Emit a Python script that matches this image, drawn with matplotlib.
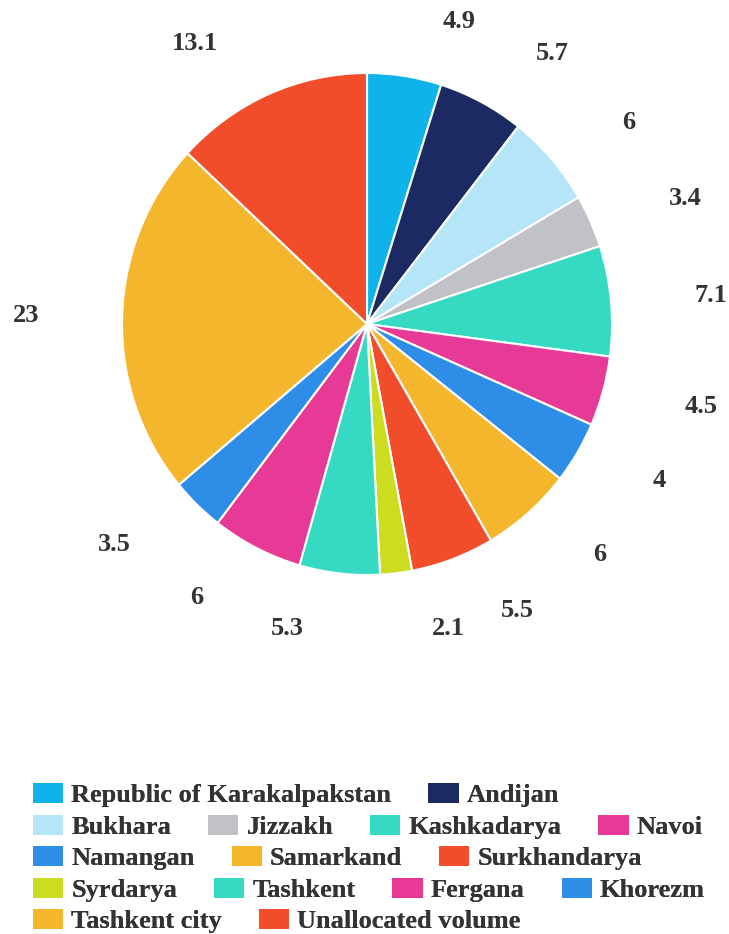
"""Pie chart of allocation by region (Uzbekistan)"""

import matplotlib
matplotlib.use("Agg")
import matplotlib.pyplot as plt
import matplotlib.patches as mpatches

regions = [
    "Republic of Karakalpakstan", "Andijan", "Bukhara", "Jizzakh",
    "Kashkadarya", "Navoi", "Namangan", "Samarkand", "Surkhandarya",
    "Syrdarya", "Tashkent", "Fergana", "Khorezm", "Tashkent city",
    "Unallocated volume",
]
values = [4.9, 5.7, 6, 3.4, 7.1, 4.5, 4, 6, 5.5, 2.1, 5.3, 6, 3.5, 23, 13.1]
colors = [
    "#0db3ea", "#1b2a63", "#b5e6f8", "#c1c1c8", "#36d9c1", "#e63a96",
    "#2e8de6", "#f4b62c", "#f24d2a", "#ccdc1f", "#36d9c1", "#e63a96",
    "#2e8de6", "#f4b62c", "#f24d2a",
]
# legend items per row (flowing legend like the original)
legend_rows = [2, 4, 3, 4, 2]

W, H = 729, 934
FONT = "Liberation Serif"
TEXT_COLOR = "#333333"

fig = plt.figure(figsize=(W / 100, H / 100), dpi=100)

# pie placement in pixels
cx, cy = 367, 324
rx, ry = 245, 251
lim = 1.05
ax = fig.add_axes([(cx - rx * lim) / W, (H - cy - ry * lim) / H,
                   2 * rx * lim / W, 2 * ry * lim / H])

labels = [f"{v:g}" for v in values]
wedges, texts = ax.pie(
    values, labels=labels, colors=colors, startangle=90, counterclock=False,
    labeldistance=1.22,
    wedgeprops=dict(edgecolor="white", linewidth=1.5),
    textprops=dict(fontsize=19, fontweight="bold", family=FONT, color=TEXT_COLOR),
)
# push labels a bit sideways, away from the pie
for t in texts:
    x, y = t.get_position()
    t.set_position((x + (0.12 if x >= 0 else -0.12), y))

ax.set_xlim(-lim, lim)
ax.set_ylim(-lim, lim)
ax.set_aspect("auto")

# legend, one row at a time
row_y = [795, 827, 858, 890, 921]
start = 0
for n, y in zip(legend_rows, row_y):
    handles = [mpatches.Patch(facecolor=c, edgecolor="none")
               for c in colors[start:start + n]]
    leg = fig.legend(
        handles, regions[start:start + n], loc="center left",
        bbox_to_anchor=(33 / W, 1 - y / H), ncol=n, frameon=False,
        borderpad=0, borderaxespad=0, handlelength=1.15, handleheight=0.8,
        handletextpad=0.3, columnspacing=1.4,
        prop=dict(family=FONT, weight="bold", size=19),
    )
    for t in leg.get_texts():
        t.set_color(TEXT_COLOR)
    fig.add_artist(leg)
    start += n

plt.savefig("out.png", dpi=100)
plt.close()
